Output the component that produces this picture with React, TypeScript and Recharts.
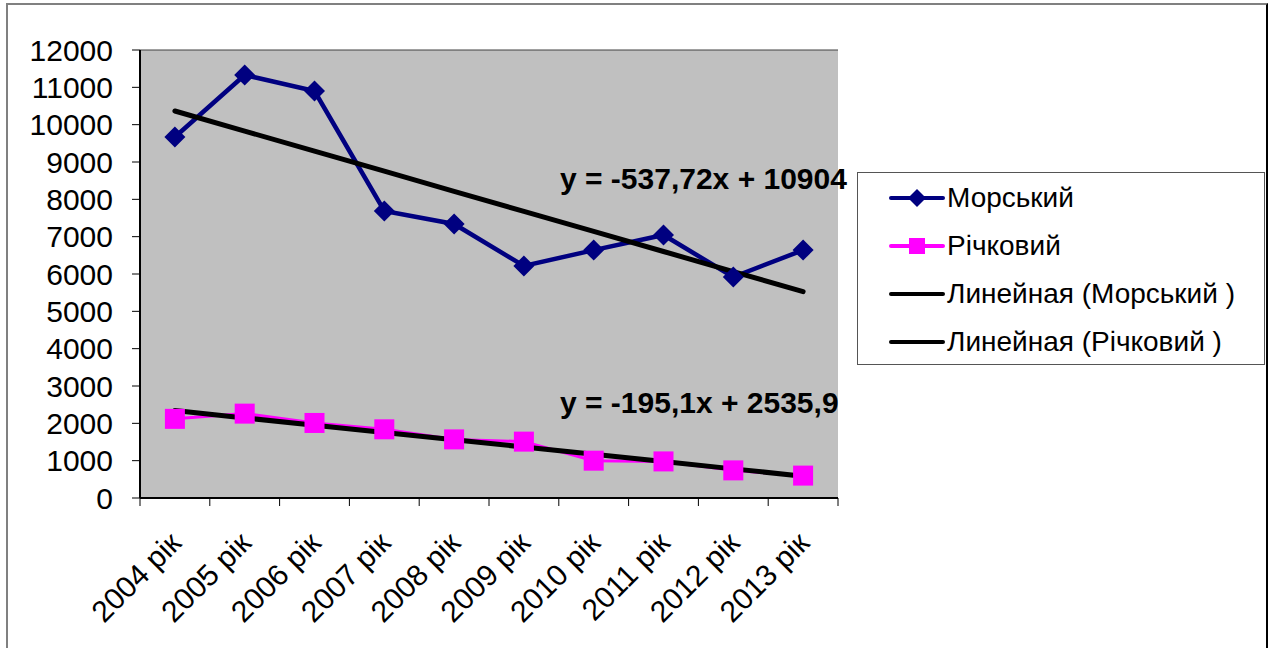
import React from 'react';
import {
  ComposedChart,
  Line,
  XAxis,
  YAxis,
  CartesianGrid,
  Customized,
} from 'recharts';

// Вантажоперевезення за роками
const years = [
  '2004 рік', '2005 рік', '2006 рік', '2007 рік', '2008 рік',
  '2009 рік', '2010 рік', '2011 рік', '2012 рік', '2013 рік',
];
const seaValues = [9670, 11330, 10900, 7690, 7340, 6215, 6640, 7045, 5920, 6640];
const riverValues = [2120, 2260, 2010, 1840, 1570, 1510, 1000, 980, 740, 600];
const yTicks = [0, 1000, 2000, 3000, 4000, 5000, 6000, 7000, 8000, 9000, 10000, 11000, 12000];

// коефіцієнти лінійних трендів (y = a·x + b, x = 1..10)
const seaTrend = { a: -537.72, b: 10904 };
const riverTrend = { a: -195.1, b: 2535.9 };

const FONT = '"Liberation Sans", Arial, sans-serif';
const CHART_W = 1268;
const CHART_H = 648;
const MARGIN = { top: 50, right: 430, bottom: 0, left: 0 };
const Y_AXIS_W = 140;
const X_AXIS_H = 150;
const PLOT_W = CHART_W - MARGIN.left - MARGIN.right - Y_AXIS_W;

const data = years.map((year, i) => ({
  year,
  sea: seaValues[i],
  river: riverValues[i],
  seaTrend: seaTrend.a * (i + 1) + seaTrend.b,
  riverTrend: riverTrend.a * (i + 1) + riverTrend.b,
}));

const fmt = (n: number) => String(n).replace('.', ',');
const equation = (t: { a: number; b: number }) => `y = ${fmt(t.a)}x + ${fmt(t.b)}`;

const Diamond = (props: any) => {
  const { cx, cy } = props;
  if (cx == null || cy == null) return null;
  const r = 10.5;
  return (
    <path
      d={`M${cx},${cy - r} L${cx + r},${cy} L${cx},${cy + r} L${cx - r},${cy} Z`}
      fill="#000080"
    />
  );
};

const Square = (props: any) => {
  const { cx, cy } = props;
  if (cx == null || cy == null) return null;
  return <rect x={cx - 10} y={cy - 10} width={20} height={20} fill="#FF00FF" />;
};

const YearTick = (props: any) => {
  const { x, y, payload, index } = props;
  const band = PLOT_W / years.length;
  return (
    <g>
      <line x1={x - band / 2} y1={y} x2={x - band / 2} y2={y + 8} stroke="#000" />
      {index === years.length - 1 && (
        <line x1={x + band / 2} y1={y} x2={x + band / 2} y2={y + 8} stroke="#000" />
      )}
      <text
        transform={`translate(${x + 8},${y + 47}) rotate(-45)`}
        textAnchor="end"
        fontFamily={FONT}
        fontSize={30}
        fill="#000"
      >
        {payload.value}
      </text>
    </g>
  );
};

const legendItems = [
  { name: 'Морський', color: '#000080', marker: 'diamond' },
  { name: 'Річковий', color: '#FF00FF', marker: 'square' },
  { name: 'Линейная (Морський )', color: '#000', marker: 'none' },
  { name: 'Линейная (Річковий )', color: '#000', marker: 'none' },
];

const LegendBox = () => (
  <div
    style={{
      position: 'absolute',
      left: 857,
      top: 172,
      width: 408,
      height: 193,
      boxSizing: 'border-box',
      border: '1px solid #555',
      background: '#fff',
      paddingTop: 1,
    }}
  >
    {legendItems.map((item) => (
      <div
        key={item.name}
        style={{ display: 'flex', alignItems: 'center', height: 48, marginLeft: 31 }}
      >
        <svg width={56} height={24} style={{ marginRight: 2 }}>
          <line x1={2} y1={12} x2={54} y2={12} stroke={item.color} strokeWidth={4} strokeLinecap="round" />
          {item.marker === 'diamond' && <path d="M28,3 L37,12 L28,21 L19,12 Z" fill={item.color} />}
          {item.marker === 'square' && <rect x={20} y={4} width={16} height={16} fill={item.color} />}
        </svg>
        <span style={{ fontFamily: FONT, fontSize: 28, color: '#000', whiteSpace: 'nowrap' }}>
          {item.name}
        </span>
      </div>
    ))}
  </div>
);

const TrendLabels = () => (
  <g fontFamily={FONT} fontSize={30} fontWeight="bold" fill="#000">
    <text x={560} y={189}>{equation(seaTrend)}</text>
    <text x={560} y={413}>{equation(riverTrend)}</text>
  </g>
);

export default function App() {
  return (
    <div style={{ position: 'absolute', left: 0, top: 0, width: CHART_W, height: CHART_H, background: '#fff' }}>
      <div
        style={{
          position: 'absolute',
          left: 6,
          top: 3,
          width: CHART_W - 6,
          height: CHART_H - 3,
          boxSizing: 'border-box',
          borderTop: '2px solid #808080',
          borderLeft: '2px solid #808080',
          borderRight: '2px solid #000',
        }}
      />
      <ComposedChart width={CHART_W} height={CHART_H} data={data} margin={MARGIN}>
        <CartesianGrid
          vertical={false}
          fill="#C0C0C0"
          fillOpacity={1}
          stroke="#404040"
          strokeWidth={1}
        />
        <XAxis
          dataKey="year"
          scale="band"
          height={X_AXIS_H}
          interval={0}
          tickLine={false}
          tickSize={0}
          tickMargin={0}
          axisLine={{ stroke: '#000', strokeWidth: 2 }}
          tick={<YearTick />}
        />
        <YAxis
          yAxisId="left"
          width={Y_AXIS_W}
          domain={[0, 12000]}
          ticks={yTicks}
          interval={0}
          tickSize={8}
          tickMargin={19}
          tickLine={{ stroke: '#000' }}
          axisLine={{ stroke: '#000', strokeWidth: 2 }}
          tick={{ fontFamily: FONT, fontSize: 30, fill: '#000' }}
        />
        <YAxis
          yAxisId="frame"
          orientation="right"
          width={0}
          domain={[0, 12000]}
          tick={false}
          tickLine={false}
          axisLine={{ stroke: '#808080', strokeWidth: 2 }}
        />
        <Line
          yAxisId="left"
          dataKey="sea"
          name="Морський"
          stroke="#000080"
          strokeWidth={4.5}
          dot={<Diamond />}
          isAnimationActive={false}
        />
        <Line
          yAxisId="left"
          dataKey="river"
          name="Річковий"
          stroke="#FF00FF"
          strokeWidth={3}
          dot={<Square />}
          isAnimationActive={false}
        />
        <Line
          yAxisId="left"
          dataKey="seaTrend"
          name="Линейная (Морський )"
          stroke="#000"
          strokeWidth={5}
          strokeLinecap="round"
          dot={false}
          isAnimationActive={false}
        />
        <Line
          yAxisId="left"
          dataKey="riverTrend"
          name="Линейная (Річковий )"
          stroke="#000"
          strokeWidth={5}
          strokeLinecap="round"
          dot={false}
          isAnimationActive={false}
        />
        <Customized component={<TrendLabels />} />
      </ComposedChart>
      <LegendBox />
    </div>
  );
}
